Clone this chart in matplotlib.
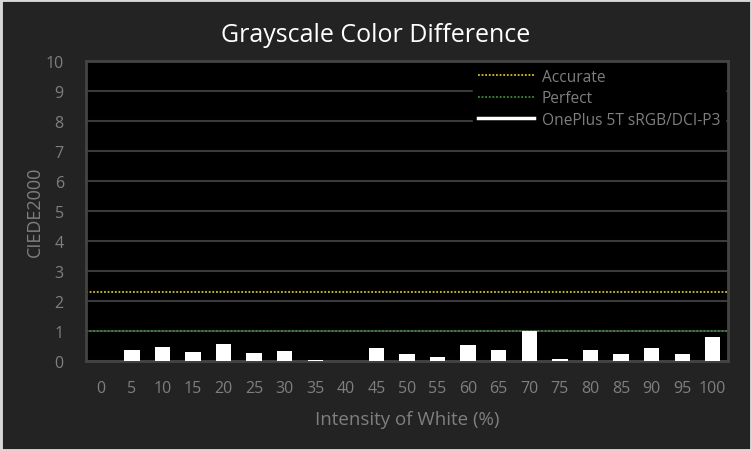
import numpy as np
import matplotlib
matplotlib.use('Agg')
from matplotlib import pyplot as plt
from matplotlib.lines import Line2D
from matplotlib.patches import Rectangle

# data
intensity = ['0', '5', '10', '15', '20', '25', '30', '35', '40', '45', '50',
             '55', '60', '65', '70', '75', '80', '85', '90', '95', '100']
delta_e = [0.0, 0.37, 0.47, 0.31, 0.58, 0.27, 0.34, 0.03, 0.0, 0.44, 0.24,
           0.14, 0.54, 0.37, 1.0, 0.07, 0.37, 0.24, 0.44, 0.24, 0.81]
accurate = 2.3
perfect = 1.0

plt.rcParams['font.family'] = ['Open Sans', 'DejaVu Sans']

bg = '#232323'
txt = '#7f7f7f'
yellow = '#d4c21c'
green = '#3e8a3e'

fig = plt.figure(figsize=(7.52, 4.52), dpi=100, facecolor=bg)
# light outer frame
fig.patches.append(Rectangle((0, 0), 1, 1, transform=fig.transFigure,
                             fill=False, edgecolor='#d8d8d8', linewidth=3.5))

ax = fig.add_axes([86 / 752, 1 - 362 / 452, 642 / 752, 300 / 452])
ax.set_facecolor('black')

x = np.arange(len(intensity))
ax.set_axisbelow(True)
ax.yaxis.grid(True, color='#3a3a3a', linewidth=1.5)
ax.bar(x, delta_e, width=0.5, color='white', zorder=3)
ax.axhline(accurate, color=yellow, linestyle=(0, (1, 1)), linewidth=1.3, zorder=2)
ax.axhline(perfect, color=green, linestyle=(0, (1, 1)), linewidth=1.3, zorder=2)

ax.set_xlim(-0.5, len(intensity) - 0.5)
ax.set_ylim(0, 10)
ax.set_yticks(range(0, 11))
ax.set_xticks(x)
ax.set_xticklabels(intensity)
ax.tick_params(colors=txt, labelsize=11.5, length=0, pad=14)
ax.tick_params(axis='y', pad=16)
for s in ax.spines.values():
    s.set_color('#444444')
    s.set_linewidth(2)

ax.set_xlabel('Intensity of White (%)', color=txt, fontsize=13.5, labelpad=10)
ax.set_ylabel('CIEDE2000', color=txt, fontsize=13, labelpad=1)
fig.text(0.5, 1 - 36 / 452, 'Grayscale Color Difference', color='white',
         fontsize=18, ha='center', va='center')

handles = [
    Line2D([], [], color=yellow, linestyle=(0, (1, 1)), linewidth=1.3),
    Line2D([], [], color=green, linestyle=(0, (1, 1)), linewidth=1.3),
    Line2D([], [], color='white', linewidth=2.5),
]
leg = ax.legend(handles, ['Accurate', 'Perfect', 'OnePlus 5T sRGB/DCI-P3'],
                loc='upper right', bbox_to_anchor=(1.0, 1.0),
                facecolor='black', edgecolor='black', framealpha=1,
                fontsize=11.2, labelcolor=txt, handlelength=3.6,
                handletextpad=0.5, borderpad=0.3, labelspacing=0.35,
                borderaxespad=0.2, fancybox=False)
leg.set_zorder(5)

fig.savefig('out.png', dpi=100, facecolor=bg)
